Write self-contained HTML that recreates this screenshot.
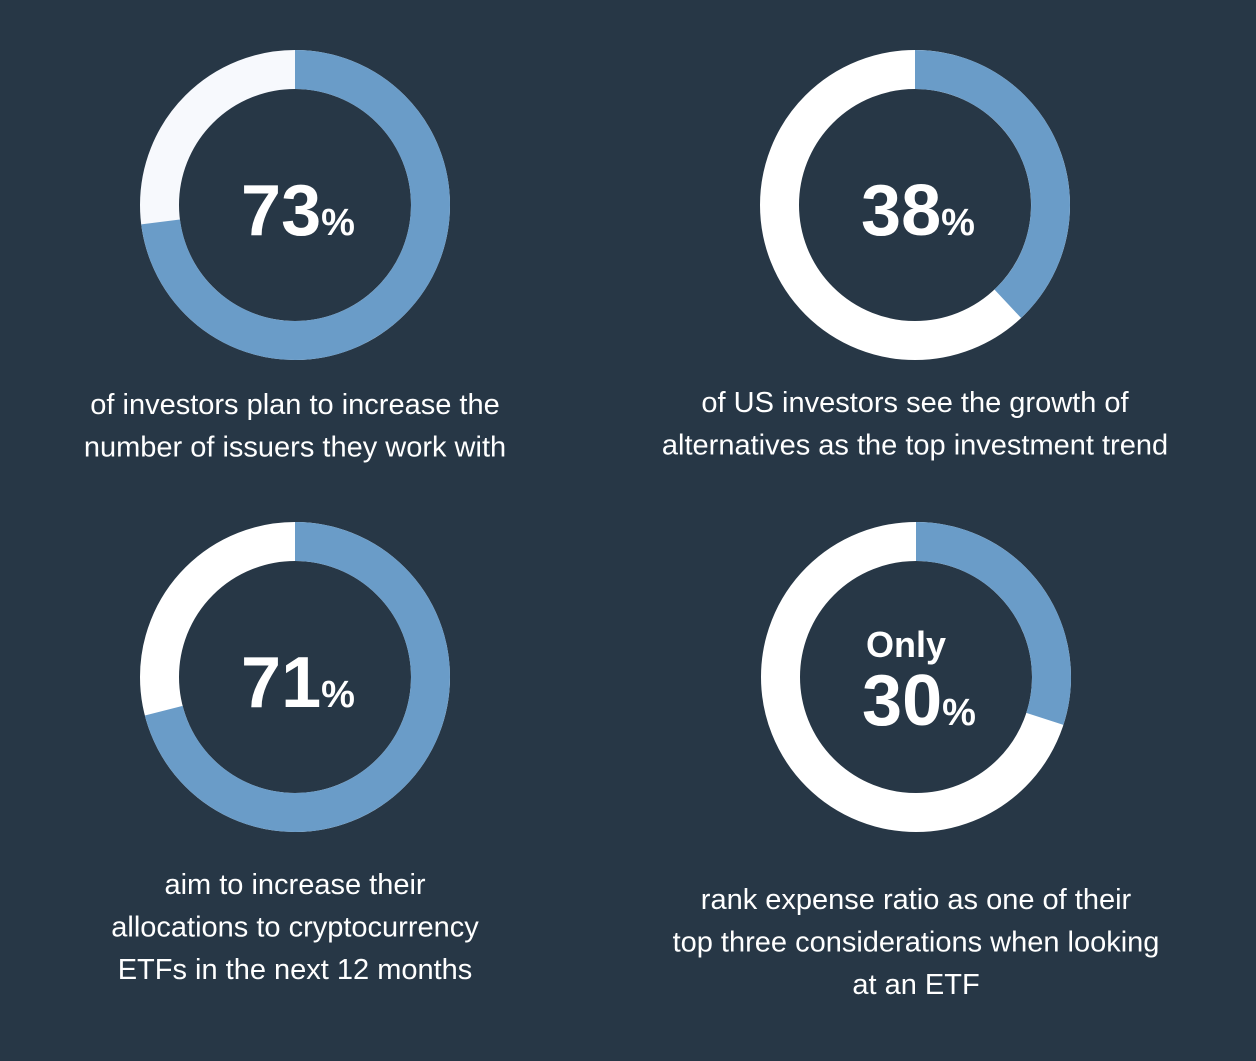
<!DOCTYPE html>
<html><head><meta charset="utf-8"><style>
html,body{margin:0;padding:0;background:#273746;}
body{width:1256px;height:1056px;overflow:hidden;font-family:"Liberation Sans",sans-serif;}
</style></head><body>
<svg id="chart" width="1256" height="1056" xmlns="http://www.w3.org/2000/svg">
<rect width="1256" height="1056" fill="#273746"/>
</svg>
<script>
const values = [73, 38, 71, 30];
const prefixes = ["", "", "", "Only"];
const labels = [
 ["of investors plan to increase the","number of issuers they work with"],
 ["of US investors see the growth of","alternatives as the top investment trend"],
 ["aim to increase their","allocations to cryptocurrency","ETFs in the next 12 months"],
 ["rank expense ratio as one of their","top three considerations when looking","at an ETF"]
];
const centers=[[295,205],[915,205],[295,677],[916,677]];
const restColors=["#f7f9fd","#ffffff","#ffffff","#ffffff"];
const labelY=[404,402,884,899];
const NS="http://www.w3.org/2000/svg";
const svg=document.getElementById('chart');
const R=135.5,W=39;
function mk(t,a){const e=document.createElementNS(NS,t);for(const k in a)e.setAttribute(k,a[k]);return e;}
function pt(cx,cy,frac){const a=frac*2*Math.PI;return [cx+R*Math.sin(a),cy-R*Math.cos(a)];}
values.forEach((v,i)=>{
 const [cx,cy]=centers[i];
 const g=mk('g',{});
 
 
 const rest=mk('circle',{cx:cx,cy:cy,r:R,fill:'none',stroke:restColors[i],'stroke-width':W});
 
 
 g.appendChild(rest);
 const f=v/100;const [x0,y0]=pt(cx,cy,0);const [x1,y1]=pt(cx,cy,f);
 const arc=mk('path',{d:`M${x0},${y0} A${R},${R} 0 ${f>0.5?1:0} 1 ${x1},${y1}`,fill:'none',stroke:'#6a9cc8','stroke-width':W});
 
 
 g.appendChild(arc);
 let ny=cy+30;
 if(prefixes[i]){
  const p=mk('text',{x:cx-10,y:cy-20,'text-anchor':'middle','font-size':36,'font-weight':'bold',fill:'#fff'});
  p.textContent=prefixes[i];
  
  
  g.appendChild(p);
  ny=cy+48;
 }
 const t=mk('text',{x:cx+3,y:ny,'text-anchor':'middle',fill:'#fff','font-weight':'bold'});
 const s1=mk('tspan',{'font-size':72});s1.textContent=v;
 const s2=mk('tspan',{'font-size':38});s2.textContent='%';
 t.appendChild(s1);t.appendChild(s2);
 
 
 g.appendChild(t);
 labels[i].forEach((line,j)=>{
  const l=mk('text',{x:cx,y:labelY[i]+10+j*42.5,'text-anchor':'middle','font-size':29,fill:'#fff'});
  l.textContent=line;
  
  
  g.appendChild(l);
 });
 svg.appendChild(g);
});
</script>
</body></html>
